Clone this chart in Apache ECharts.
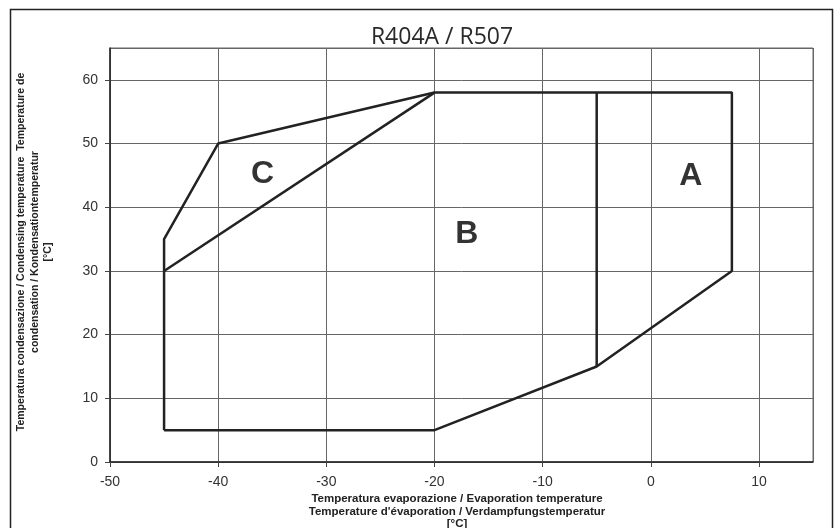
<!DOCTYPE html>
<html>
<head>
<meta charset="utf-8">
<script src="https://cdn.jsdelivr.net/npm/echarts@6/dist/echarts.min.js"></script>
<style>
html,body{margin:0;padding:0;background:#fff;}
#chart{width:837px;height:528px;}
</style>
</head>
<body>
<div id="chart"></div>
<script>
// ---- data ----
var titleText = 'R404A / R507';
var xTicks = [-50, -40, -30, -20, -10, 0, 10];
var yTicks = [0, 10, 20, 30, 40, 50, 60];
// outer envelope (evaporation, condensing)
var envelopeX = [-45, -20, -5, 7.5, 7.5, -20, -40, -45, -45];
var envelopeY = [5, 5, 15, 30, 58, 58, 50, 35, 5];
// division line between B and C
var divCX = [-45, -20];
var divCY = [30, 58];
// division line between B and A
var divAX = [-5, -5];
var divAY = [15, 58];
// region labels
var regionNames = ['A', 'B', 'C'];
var regionX = [3.7, -17.0, -35.9];
var regionY = [44.8, 35.7, 45.2];
var xName = ['Temperatura evaporazione / Evaporation temperature', "Temperature d'évaporation / Verdampfungstemperatur", '[°C]'];
var yName = ['Temperatura condensazione / Condensing temperature  Temperature de', 'condensation / Kondensationtemperatur', '[°C]'];

function pairs(xs, ys) { return xs.map(function (x, i) { return [x, ys[i]]; }); }

var chart = echarts.init(document.getElementById('chart'), null, {renderer: 'canvas'});
var lineStyle = {color: '#222', width: 2.5};
var option = {
  animation: false,
  backgroundColor: '#fff',
  title: {
    text: titleText,
    left: 437, top: 21, textAlign: 'center',
    textStyle: {fontFamily: 'Open Sans', fontSize: 23, fontWeight: 'normal', color: '#2a2a2a'}
  },
  grid: {left: 110, right: 24, top: 48, bottom: 66, show: true, borderColor: '#666', borderWidth: 1},
  xAxis: {
    type: 'value', min: -50, max: 15, interval: 10,
    axisLine: {show: true, onZero: false, lineStyle: {color: '#222', width: 1.5}},
    axisTick: {show: true, length: 5, lineStyle: {color: '#444'}},
    axisLabel: {showMaxLabel: false, margin: 13, fontFamily: 'Liberation Sans', fontSize: 14, color: '#333',
      formatter: function (v) { return xTicks.indexOf(v) >= 0 ? String(v) : ''; }},
    splitLine: {show: true, lineStyle: {color: '#666', width: 1}}
  },
  yAxis: {
    type: 'value', min: 0, max: 65, interval: 10,
    axisLine: {show: true, onZero: false, lineStyle: {color: '#222', width: 1.5}},
    axisTick: {show: true, length: 5, lineStyle: {color: '#444'}},
    axisLabel: {showMaxLabel: false, margin: 12, fontFamily: 'Liberation Sans', fontSize: 14, color: '#333',
      formatter: function (v) { return yTicks.indexOf(v) >= 0 ? String(v) : ''; }},
    splitLine: {show: true, lineStyle: {color: '#666', width: 1}}
  },
  series: [
    {type: 'line', data: pairs(envelopeX, envelopeY), symbol: 'none', lineStyle: lineStyle, z: 5},
    {type: 'line', data: pairs(divCX, divCY), symbol: 'none', lineStyle: lineStyle, z: 5},
    {type: 'line', data: pairs(divAX, divAY), symbol: 'none', lineStyle: lineStyle, z: 5},
    {type: 'scatter', symbolSize: 0, z: 6,
      data: regionNames.map(function (n, i) { return {name: n, value: [regionX[i], regionY[i]]}; }),
      label: {show: true, position: 'inside', formatter: '{b}', fontFamily: 'Liberation Sans', fontSize: 32, color: '#000', fontWeight: 'bold', textBorderWidth: 0}}
  ],
  graphic: [
    {type: 'rect', shape: {x: 10.5, y: 9.5, width: 822, height: 530}, style: {fill: null, stroke: '#222', lineWidth: 1.5}, z: 100},
    {type: 'text', x: 457, y: 493, style: {text: xName.join('\n'), textAlign: 'center', fontFamily: 'Liberation Sans', fontSize: 11.5, fontWeight: 'bold', fill: '#222', lineHeight: 12.5}},
    {type: 'text', x: 35, y: 252, rotation: Math.PI / 2,
      style: {text: yName.join('\n'), textAlign: 'center', textVerticalAlign: 'middle', fontFamily: 'Liberation Sans', fontSize: 10.5, fontWeight: 'bold', fill: '#222', lineHeight: 13.5}}
  ]
};
chart.setOption(option);
</script>
</body>
</html>
